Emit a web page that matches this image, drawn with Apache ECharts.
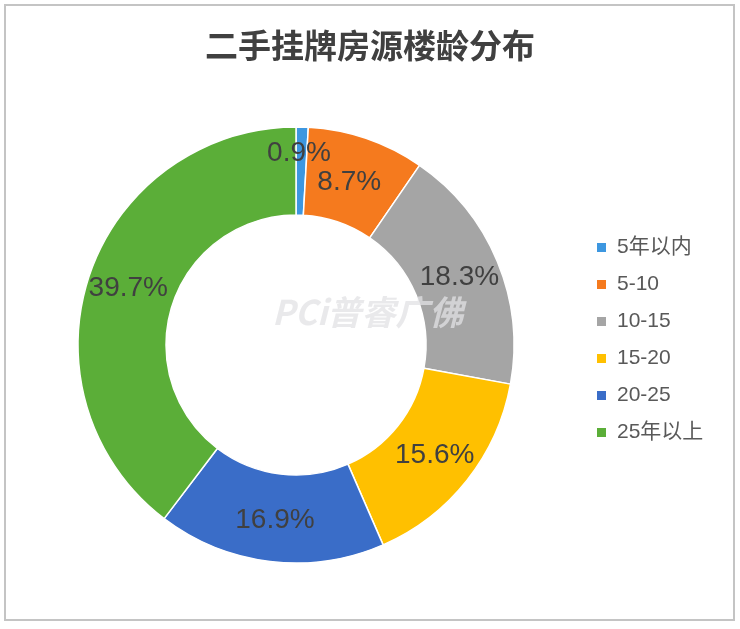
<!DOCTYPE html>
<html>
<head>
<meta charset="utf-8">
<script src="https://cdn.jsdelivr.net/npm/echarts@6/dist/echarts.min.js"></script>
<style>html,body{margin:0;padding:0;background:#fff;}#c{width:740px;height:629px;}</style>
</head>
<body>
<div id="c"></div>
<script>
const categories = ['5年以内', '5-10', '10-15', '15-20', '20-25', '25年以上'];
const values = [0.9, 8.7, 18.3, 15.6, 16.9, 39.7];
const colors = ['#3d97e0', '#f57a1e', '#a5a5a5', '#ffc000', '#3a6dc8', '#5bae38'];
const titleText = '二手挂牌房源楼龄分布';
const watermark = 'PCi普睿广佛';

const labelOffsets = { 0: [-2, -15], 1: [-4, 5] };

const chart = echarts.init(document.getElementById('c'));
chart.setOption({
  animation: false,
  backgroundColor: '#fff',
  title: {
    text: titleText,
    left: 'center',
    top: 24,
    textStyle: { fontSize: 33, fontWeight: 'bold', color: '#404040', fontFamily: 'Noto Sans CJK SC' }
  },
  graphic: [
    { type: 'rect', shape: { x: 5, y: 5, width: 729, height: 615 }, style: { fill: 'none', stroke: '#c4c4c4', lineWidth: 2 }, z: -1 },
    { type: 'text', left: 272, top: 295, style: { text: watermark, fill: 'rgba(225,225,228,0.75)', font: 'italic bold 34px "Noto Sans CJK SC"' }, z: 100 }
  ],
  legend: {
    orient: 'vertical',
    left: 590,
    top: 231,
    icon: 'rect',
    itemWidth: 11,
    itemHeight: 11,
    itemGap: 14,
    textStyle: { fontSize: 21, lineHeight: 23, color: '#595959', fontFamily: 'Liberation Sans, Noto Sans CJK SC', padding: [0, 0, 0, 5] },
    data: categories
  },
  color: colors,
  series: [{
    type: 'pie',
    center: [296, 345],
    radius: [130, 218],
    startAngle: 90,
    clockwise: true,
    avoidLabelOverlap: false,
    labelLayout: { hideOverlap: false },
    itemStyle: { borderColor: '#fff', borderWidth: 1.5 },
    label: {
      show: true,
      position: 'inside',
      formatter: p => p.value.toFixed(1) + '%',
      fontSize: 28,
      color: '#404040',
      fontFamily: 'Liberation Sans'
    },
    emphasis: { disabled: true },
    labelLine: { show: false },
    data: categories.map((c, i) => {
      const d = { name: c, value: values[i] };
      if (labelOffsets[i]) d.label = { offset: labelOffsets[i] };
      return d;
    })
  }]
});
</script>
</body>
</html>
